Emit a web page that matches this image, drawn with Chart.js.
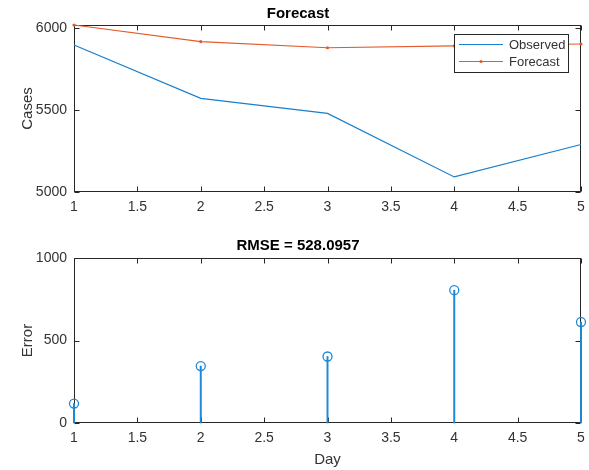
<!DOCTYPE html>
<html lang="en">
<head>
    <meta charset="UTF-8">
    <title>Forecast</title>
    <script src="https://cdn.jsdelivr.net/npm/chart.js"></script>
    <style>
        body { margin: 0; background: #fff; }
        .wrap { position: relative; width: 589px; height: 470px; }
        canvas { position: absolute; left: 0; }
        #forecastChart { top: 0; }
        #errorChart { top: 235px; }
    </style>
</head>
<body>
    <div class="wrap">
        <canvas id="forecastChart" width="589" height="235"></canvas>
        <canvas id="errorChart" width="589" height="235"></canvas>
    </div>

    <script>
        // data
        const days = [1, 2, 3, 4, 5];
        const observed = [5898, 5572, 5480, 5092, 5290];
        const forecast = [6020, 5918, 5881, 5892, 5904];
        const errors = [118, 345, 403, 805, 612];
        const rmse = '528.0957';

        const dayTicks = [1, 1.5, 2, 2.5, 3, 3.5, 4, 4.5, 5];
        const caseTicks = [5000, 5500, 6000];
        const errorTicks = [0, 500, 1000];

        const axisColor = '#262626';
        const textColor = '#333333';
        const blue = '#1a7fcc';
        const stemBlue = '#1e88d6';
        const orange = '#e35b2a';

        // MATLAB-like box with inward ticks, drawn under the data
        const boxPlugin = {
            id: 'matlabBox',
            beforeDatasetsDraw(chart) {
                const ctx = chart.ctx;
                const a = chart.chartArea;
                const l = Math.round(a.left) + 0.5, r = Math.round(a.right) - 0.5;
                const t = Math.round(a.top) + 0.5, b = Math.round(a.bottom) - 0.5;
                ctx.save();
                ctx.strokeStyle = axisColor;
                ctx.lineWidth = 1;
                ctx.strokeRect(l, t, r - l, b - t);
                ctx.beginPath();
                chart.scales.x.ticks.forEach(tk => {
                    const px = Math.round(chart.scales.x.getPixelForValue(tk.value)) + 0.5;
                    ctx.moveTo(px, b); ctx.lineTo(px, b - 5);
                    ctx.moveTo(px, t); ctx.lineTo(px, t + 5);
                });
                chart.scales.y.ticks.forEach(tk => {
                    const py = Math.round(chart.scales.y.getPixelForValue(tk.value)) + 0.5;
                    ctx.moveTo(l, py); ctx.lineTo(l + 5, py);
                    ctx.moveTo(r, py); ctx.lineTo(r - 5, py);
                });
                ctx.stroke();
                ctx.restore();
            }
        };

        // legend box inside the upper right corner
        const legendPlugin = {
            id: 'insideLegend',
            afterDraw(chart) {
                const ctx = chart.ctx;
                const x0 = 454.5, y0 = 34.5, w = 114, h = 38;
                ctx.save();
                ctx.fillStyle = '#fff';
                ctx.fillRect(x0, y0, w, h);
                ctx.strokeStyle = axisColor;
                ctx.lineWidth = 1;
                ctx.strokeRect(x0, y0, w, h);
                ctx.font = '13px "Liberation Sans", Arial, sans-serif';
                ctx.textBaseline = 'middle';
                chart.data.datasets.forEach((ds, i) => {
                    const yy = 44.5 + i * 17;
                    ctx.strokeStyle = ds.borderColor;
                    ctx.lineWidth = 1.2;
                    ctx.beginPath();
                    ctx.moveTo(459, yy);
                    ctx.lineTo(503, yy);
                    ctx.stroke();
                    if (ds.pointRadius > 0) {
                        ctx.fillStyle = ds.borderColor;
                        ctx.beginPath();
                        ctx.arc(481, yy, 1.6, 0, Math.PI * 2);
                        ctx.fill();
                    }
                    ctx.fillStyle = textColor;
                    ctx.fillText(ds.label, 509, yy + 0.5);
                });
                ctx.restore();
            }
        };

        function setTicks(arr) {
            return function (scale) {
                scale.ticks = arr.map(v => ({ value: v }));
            };
        }

        const plainLabel = v => String(v);

        function makeScales(yMin, yMax, yTicks, yTitle, xTitle, xHeight) {
            return {
                x: {
                    type: 'linear',
                    min: 1,
                    max: 5,
                    offset: false,
                    afterBuildTicks: setTicks(dayTicks),
                    afterFit(scale) {
                        scale.height = xHeight;
                        scale.paddingLeft = 0;
                        scale.paddingRight = 0;
                    },
                    grid: { display: false, drawTicks: false },
                    border: { display: false },
                    ticks: {
                        padding: 7,
                        color: textColor,
                        maxRotation: 0,
                        autoSkip: false,
                        callback: plainLabel,
                        font: { family: '"Liberation Sans", Arial, sans-serif', size: 14 }
                    },
                    title: {
                        display: !!xTitle,
                        text: xTitle,
                        color: textColor,
                        padding: { top: 0, bottom: 1 },
                        font: { family: '"Liberation Sans", Arial, sans-serif', size: 15 }
                    }
                },
                y: {
                    type: 'linear',
                    min: yMin,
                    max: yMax,
                    afterBuildTicks: setTicks(yTicks),
                    afterFit(scale) {
                        scale.width = 59;
                        scale.paddingTop = 0;
                        scale.paddingBottom = 0;
                    },
                    grid: { display: false, drawTicks: false },
                    border: { display: false },
                    ticks: {
                        padding: 7,
                        color: textColor,
                        callback: plainLabel,
                        font: { family: '"Liberation Sans", Arial, sans-serif', size: 14 }
                    },
                    title: {
                        display: true,
                        text: yTitle,
                        color: textColor,
                        padding: { top: 4, bottom: 0 },
                        font: { family: '"Liberation Sans", Arial, sans-serif', size: 15 }
                    }
                }
            };
        }

        function titleOpts(text, padTop, padBottom) {
            return {
                display: true,
                text: text,
                color: '#000',
                padding: { top: padTop, bottom: padBottom },
                font: { family: '"Liberation Sans", Arial, sans-serif', size: 15, weight: 'bold' }
            };
        }

        // Top: observed vs forecast
        new Chart(document.getElementById('forecastChart'), {
            type: 'line',
            data: {
                datasets: [
                    {
                        label: 'Observed',
                        data: days.map((d, i) => ({ x: d, y: observed[i] })),
                        borderColor: blue,
                        borderWidth: 1.2,
                        pointRadius: 0,
                        tension: 0,
                        clip: false
                    },
                    {
                        label: 'Forecast',
                        data: days.map((d, i) => ({ x: d, y: forecast[i] })),
                        borderColor: orange,
                        backgroundColor: orange,
                        borderWidth: 1.2,
                        pointRadius: 1.6,
                        pointBorderWidth: 0,
                        pointBackgroundColor: orange,
                        tension: 0,
                        clip: false
                    }
                ]
            },
            options: {
                responsive: false,
                animation: false,
                layout: { padding: { left: 15, right: 8, top: 0, bottom: 0 } },
                plugins: {
                    legend: { display: false },
                    tooltip: { enabled: false },
                    title: titleOpts('Forecast', 5, 2)
                },
                scales: makeScales(5000, 6020, caseTicks, 'Cases', '', 43)
            },
            plugins: [boxPlugin, legendPlugin]
        });

        // Bottom: error stems
        new Chart(document.getElementById('errorChart'), {
            type: 'line',
            data: {
                datasets: [
                    {
                        type: 'bar',
                        label: 'stem',
                        data: days.map((d, i) => ({ x: d, y: errors[i] })),
                        backgroundColor: stemBlue,
                        barThickness: 1.3,
                        clip: false
                    },
                    {
                        label: 'Error',
                        data: days.map((d, i) => ({ x: d, y: errors[i] })),
                        showLine: false,
                        pointRadius: 4.5,
                        pointBorderWidth: 1.3,
                        pointBorderColor: stemBlue,
                        pointBackgroundColor: 'rgba(255,255,255,0)',
                        clip: false
                    }
                ]
            },
            options: {
                responsive: false,
                animation: false,
                layout: { padding: { left: 15, right: 8, top: 0, bottom: 0 } },
                plugins: {
                    legend: { display: false },
                    tooltip: { enabled: false },
                    title: titleOpts('RMSE = ' + rmse, 2, 3)
                },
                scales: makeScales(0, 1000, errorTicks, 'Error', 'Day', 47)
            },
            plugins: [boxPlugin]
        });
    </script>
</body>
</html>
